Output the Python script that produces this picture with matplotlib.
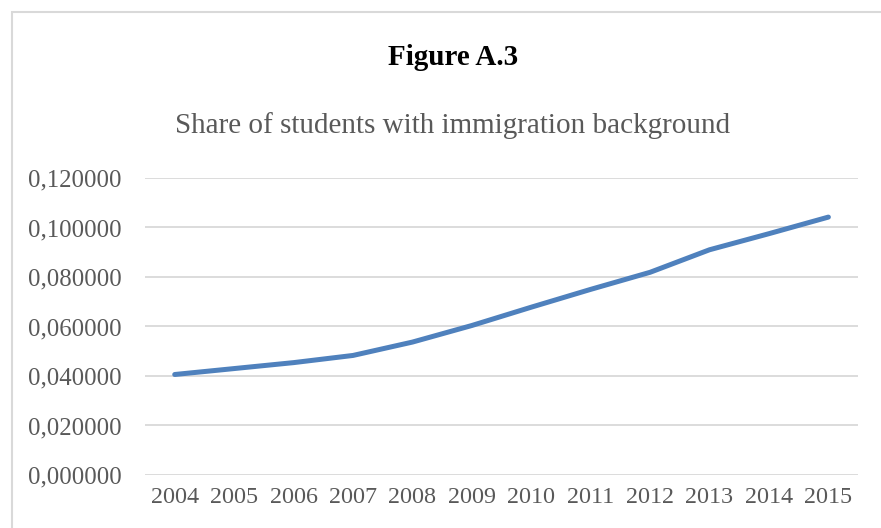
import matplotlib
matplotlib.use("Agg")
import matplotlib.pyplot as plt
from matplotlib.patches import Rectangle
from matplotlib.ticker import FuncFormatter, MultipleLocator

# data
years = ["2004", "2005", "2006", "2007", "2008", "2009",
         "2010", "2011", "2012", "2013", "2014", "2015"]
share = [0.0406, 0.0430, 0.0454, 0.0483, 0.0537, 0.0604,
         0.0678, 0.0750, 0.0819, 0.0910, 0.0975, 0.1042]

plt.rcParams["font.family"] = ["Liberation Serif", "DejaVu Serif"]

fig = plt.figure(figsize=(8.81, 5.28), dpi=100)
ax = fig.add_axes([0.1646, 0.1004, 0.8094, 0.5625])

# outer frame like the Excel chart area
fig.patches.append(Rectangle((12 / 881, -0.05), 1.2, 1 - 12 / 528 + 0.05,
                             transform=fig.transFigure, fill=False,
                             edgecolor="#d9d9d9", linewidth=1.5))

x = list(range(len(years)))
ax.plot(x, share, color="#4f81bd", linewidth=3.6, solid_capstyle="round",
        solid_joinstyle="round")

ax.set_xlim(-0.5, len(years) - 0.5)
ax.set_ylim(0, 0.12)
ax.yaxis.set_major_locator(MultipleLocator(0.02))
ax.yaxis.set_major_formatter(FuncFormatter(lambda v, p: f"{v:.6f}".replace(".", ",")))
ax.set_xticks(x)
ax.set_xticklabels(years)
ax.grid(axis="y", color="#d9d9d9", linewidth=1.3)
ax.set_axisbelow(True)
for s in ax.spines.values():
    s.set_visible(False)
ax.tick_params(axis="y", length=0, pad=17, labelsize=17.8, labelcolor="#595959")
ax.tick_params(axis="x", length=0, pad=9, labelsize=17.4, labelcolor="#595959")

fig.text(0.514, 0.892, "Figure A.3", ha="center", va="center",
         fontsize=21, fontweight="bold", color="black")
fig.text(0.514, 0.763, "Share of students with immigration background",
         ha="center", va="center", fontsize=21, color="#595959")

fig.savefig("out.png", dpi=100)
